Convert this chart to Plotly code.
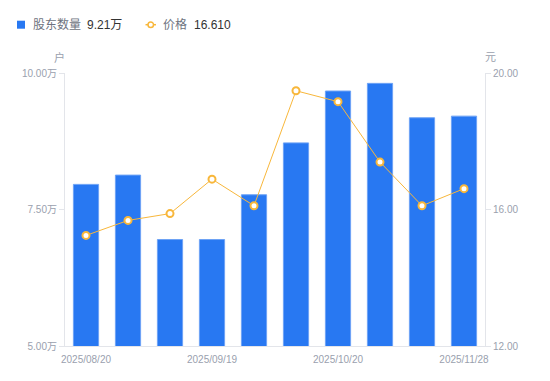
import plotly.graph_objects as go

dates = ["2025/08/20", "2025/08/31", "2025/09/10", "2025/09/19", "2025/09/30",
         "2025/10/10", "2025/10/20", "2025/10/31", "2025/11/10", "2025/11/28"]
holders = [79600, 81300, 69500, 69500, 77700, 87200, 96700, 98100, 91800, 92100]
prices = [15.24, 15.68, 15.88, 16.89, 16.11, 19.48, 19.16, 17.39, 16.11, 16.61]
tick_dates = ["2025/08/20", "2025/09/19", "2025/10/20", "2025/11/28"]
left_ticks = [50000, 75000, 100000]
left_ticktext = ["5.00万", "7.50万", "10.00万"]
right_ticks = [12, 16, 20]

BLUE = "#2878F2"
ORANGE = "#F8B73B"
GRAY = "#9A9FAE"
AXIS = "#E3E5EA"
FONT = "Liberation Sans, Arial, Noto Sans CJK SC, sans-serif"

fig = go.Figure()
fig.add_trace(go.Bar(x=dates, y=holders, name="股东数量",
                     marker=dict(color=BLUE, line=dict(color="#6EA3F5", width=1)),
                     yaxis="y"))
fig.add_trace(go.Scatter(x=dates, y=prices, name="价格", mode="lines+markers",
                         line=dict(color=ORANGE, width=1),
                         marker=dict(symbol="circle", size=7, color="white",
                                     line=dict(color=ORANGE, width=2)),
                         yaxis="y2"))

# page body has an 8px margin; figure is sized so the plot area lands at
# page x 65..485, y 73..346
fig.update_layout(
    width=542, height=373,
    margin=dict(l=57, r=65, t=65, b=35),
    paper_bgcolor="white", plot_bgcolor="white",
    showlegend=False, bargap=0.4,
    font=dict(family=FONT, size=10, color=GRAY),
    xaxis=dict(type="category", range=[-0.5, 9.5], tickvals=tick_dates,
               showline=True, linecolor=AXIS, linewidth=1,
               ticks="outside", ticklen=4, tickcolor="rgba(0,0,0,0)",
               showgrid=False, tickfont=dict(size=10, color=GRAY)),
    yaxis=dict(range=[50000, 100000], tickvals=left_ticks, ticktext=left_ticktext,
               showgrid=False, zeroline=False, showline=True, linecolor=AXIS,
               ticks="outside", ticklen=5, tickcolor=AXIS,
               tickfont=dict(size=10, color=GRAY)),
    yaxis2=dict(range=[12, 20], tickvals=right_ticks, tickformat=".2f",
                overlaying="y", side="right", showgrid=False, zeroline=False,
                showline=True, linecolor=AXIS, ticks="outside", ticklen=5,
                tickcolor=AXIS, tickfont=dict(size=10, color=GRAY)),
)

def px(x):
    return (x - 65) / 420.0

def py(y):
    return (346 - y) / 273.0

# axis unit titles
fig.add_annotation(text="户", xref="paper", yref="paper", x=px(59), y=py(57),
                   showarrow=False, font=dict(size=11, color=GRAY), xanchor="center", yanchor="middle")
fig.add_annotation(text="元", xref="paper", yref="paper", x=px(490), y=py(57),
                   showarrow=False, font=dict(size=11, color=GRAY), xanchor="center", yanchor="middle")

# custom legend
fig.add_shape(type="rect", xref="paper", yref="paper",
              x0=px(17), x1=px(25), y0=py(28.7), y1=py(20.7),
              fillcolor=BLUE, line=dict(width=0))
fig.add_annotation(text="股东数量", xref="paper", yref="paper", x=px(30.5), y=py(24.7),
                   xanchor="left", yanchor="middle", showarrow=False,
                   font=dict(size=12, color="#6E7380"))
fig.add_annotation(text="9.21万", xref="paper", yref="paper", x=px(84.5), y=py(24.7),
                   xanchor="left", yanchor="middle", showarrow=False,
                   font=dict(size=12, color="#333333"))
fig.add_shape(type="line", xref="paper", yref="paper",
              x0=px(145.5), x1=px(156), y0=py(24.7), y1=py(24.7),
              line=dict(color=ORANGE, width=1.5))
fig.add_shape(type="circle", xref="paper", yref="paper",
              x0=px(148), x1=px(153.5), y0=py(27.5), y1=py(22),
              fillcolor="white", line=dict(color=ORANGE, width=1.5))
fig.add_annotation(text="价格", xref="paper", yref="paper", x=px(161), y=py(24.7),
                   xanchor="left", yanchor="middle", showarrow=False,
                   font=dict(size=12, color="#6E7380"))
fig.add_annotation(text="16.610", xref="paper", yref="paper", x=px(191.5), y=py(24.7),
                   xanchor="left", yanchor="middle", showarrow=False,
                   font=dict(size=12, color="#333333"))

fig.write_html("out.html")
